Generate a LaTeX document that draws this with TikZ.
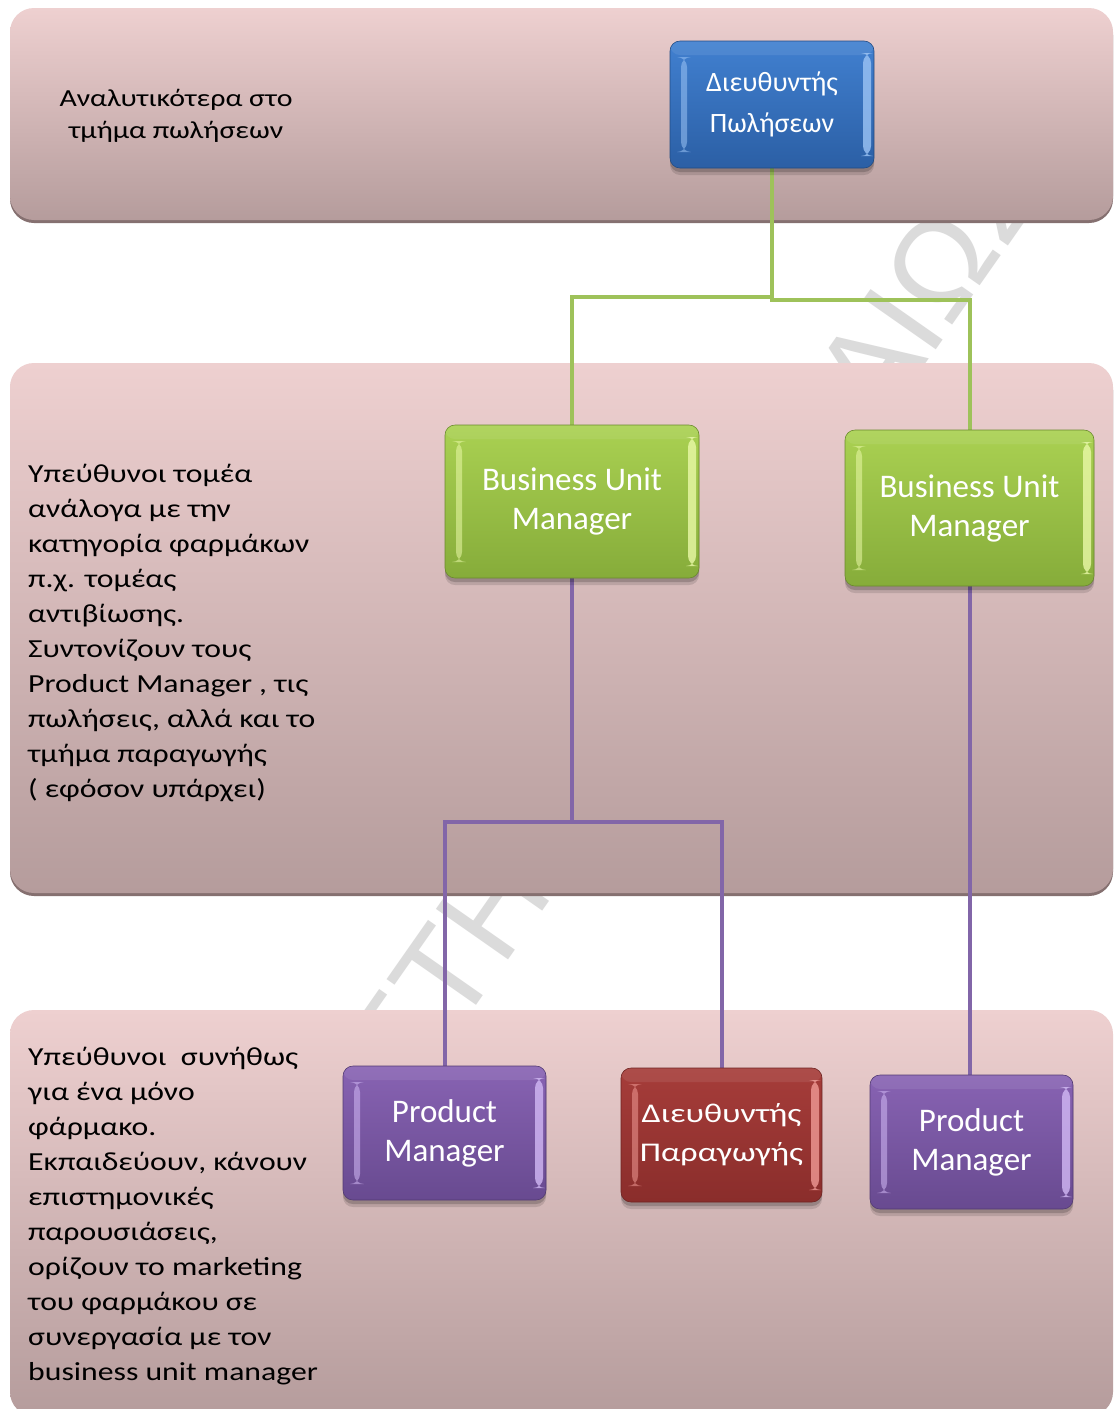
\documentclass[tikz,border=0pt]{standalone}
\usepackage{fontspec}
\setmainfont{Carlito}
\newfontfamily\descfont{Carlito}[FakeStretch=1.22]
\newfontfamily\widefont{Carlito}[FakeStretch=1.26]
\newfontfamily\wmfont{Liberation Sans}

\definecolor{bandtop}{HTML}{EED0D0}
\definecolor{bandbot}{HTML}{B59C9C}
\definecolor{bandshadow}{HTML}{857070}
\definecolor{wmgray}{HTML}{DBDBDB}
\definecolor{bluetop}{HTML}{4180D0}
\definecolor{bluebot}{HTML}{2B5FA5}
\definecolor{bluehi}{HTML}{9CC4F5}
\definecolor{greentop}{HTML}{AAD152}
\definecolor{greenbot}{HTML}{86AC3A}
\definecolor{greenhi}{HTML}{EAF9A8}
\definecolor{purpletop}{HTML}{8863B3}
\definecolor{purplebot}{HTML}{684A90}
\definecolor{purplehi}{HTML}{D2B9F5}
\definecolor{redtop}{HTML}{A63D3A}
\definecolor{redbot}{HTML}{8A2D2B}
\definecolor{redhi}{HTML}{F09A95}
\definecolor{greenline}{HTML}{9EC25A}
\definecolor{purpleline}{HTML}{8266A8}

\tikzset{
  bandshade/.style={rounded corners=24pt, top color=bandtop, bottom color=bandbot},
  bandedge/.style={rounded corners=24pt, fill=bandshadow},
  orgbox/.style n args={3}{rounded corners=10pt, inner sep=0pt, align=center,
    text=white, top color=#1, bottom color=#2, draw=#2!80!black, line width=0.6pt,
    preaction={fill=black, fill opacity=0.12, transform canvas={yshift=-7pt}},
    preaction={fill=black, fill opacity=0.18, transform canvas={yshift=-4pt}},
    path picture={
      \fill[#3, opacity=0.55]
        ([xshift=11pt,yshift=-16pt]path picture bounding box.north west) rectangle
        ([xshift=17pt,yshift=16pt]path picture bounding box.south west);
      \fill[#3, opacity=0.8]
        ([xshift=-3pt,yshift=-12pt]path picture bounding box.north east) rectangle
        ([xshift=-11pt,yshift=12pt]path picture bounding box.south east);
      \fill[white, opacity=0.08]
        (path picture bounding box.north west) rectangle
        ([yshift=-14pt]path picture bounding box.north east);
    }},
  boxfont/.style={font=\fontsize{33}{39}\selectfont},
  desc/.style={align=left, inner sep=0pt, text=black,
    font=\descfont\fontsize{26}{35}\selectfont},
  greenlink/.style={draw=greenline, line width=4pt},
  purplelink/.style={draw=purpleline, line width=4pt},
  watermark/.style={text=wmgray, inner sep=0pt,
    font=\wmfont\fontsize{128}{128}\selectfont}
}

\begin{document}
\begin{tikzpicture}[x=1pt,y=-1pt]
\useasboundingbox (0,0) rectangle (1116,1409);
\fill[white] (0,0) rectangle (1116,1409);

% diagonal watermark, later covered by the bands
\node[watermark, rotate=55] (wmark) at (556,815) {ΠΑΝΕΠΙΣΤΗΜΙΟ ΠΕΙΡΑΙΩΣ};

% three horizontal level bands, each with a darker lower edge
\fill[bandedge] (10,11) rectangle (1113,223);
\shade[bandshade] (10,8) rectangle (1113,220);
\fill[bandedge] (10,366) rectangle (1113,896);
\shade[bandshade] (10,363) rectangle (1113,893);
\shade[bandshade] (10,1010) rectangle (1113,1416);

% connectors (drawn before the boxes so the boxes sit on top)
\coordinate (salesS) at (772,168);
\coordinate (bum1N) at (572,425);
\coordinate (bum2N) at (970,430);
\coordinate (bum1S) at (572,578);
\coordinate (bum2S) at (970,586);
\coordinate (pm1N) at (444.5,1066);
\coordinate (prodN) at (721.5,1068);
\coordinate (pm2N) at (970,1075);
\draw[greenlink] (salesS) -- ++(0,129) -| (bum1N);
\draw[greenlink] (salesS) -- ++(0,132) -| (bum2N);
\draw[purplelink] (bum1S) -- ++(0,244) -| (pm1N);
\draw[purplelink] (bum1S) -- ++(0,244) -| (prodN);
\draw[purplelink] (bum2S) -- (pm2N);

% level 1
\node[orgbox={bluetop}{bluebot}{bluehi}, minimum width=204pt, minimum height=127pt,
  font=\fontsize{28}{41}\selectfont] (sales) at (772,104.5) {Διευθυντής\\Πωλήσεων};

% level 2
\node[orgbox={greentop}{greenbot}{greenhi}, boxfont, minimum width=254pt,
  minimum height=153pt] (bum1) at (572,501.5) {Business Unit\\Manager};
\node[orgbox={greentop}{greenbot}{greenhi}, boxfont, minimum width=249pt,
  minimum height=156pt] (bum2) at (969.5,508) {Business Unit\\Manager};

% level 3
\node[orgbox={purpletop}{purplebot}{purplehi}, boxfont, minimum width=203pt,
  minimum height=134pt] (pm1) at (444.5,1133) {Product\\Manager};
\node[orgbox={redtop}{redbot}{redhi}, minimum width=201pt, minimum height=134pt,
  font=\widefont\fontsize{27}{39}\selectfont] (prod) at (721.5,1135) {Διευθυντής\\Παραγωγής};
\node[orgbox={purpletop}{purplebot}{purplehi}, boxfont, minimum width=203pt,
  minimum height=134pt] (pm2) at (971.5,1142) {Product\\Manager};

% side descriptions (base anchor = baseline of the last line)
\node[desc, align=center, anchor=base, font=\descfont\fontsize{24.5}{32}\selectfont]
  (note1) at (176,138) {Αναλυτικότερα στο\\τμήμα πωλήσεων};
\node[desc, anchor=base west] (note2) at (28,797)
  {Υπεύθυνοι τομέα\\ανάλογα με την\\κατηγορία φαρμάκων\\π.χ. τομέας\\αντιβίωσης.\\Συντονίζουν τους\\Product Manager , τις\\πωλήσεις, αλλά και το\\τμήμα παραγωγής\\( εφόσον υπάρχει)};
\node[desc, anchor=base west] (note3) at (28,1380)
  {Υπεύθυνοι~ συνήθως\\για ένα μόνο\\φάρμακο.\\Εκπαιδεύουν, κάνουν\\επιστημονικές\\παρουσιάσεις,\\ορίζουν το marketing\\του φαρμάκου σε\\συνεργασία με τον\\business unit manager};
\end{tikzpicture}
\end{document}
